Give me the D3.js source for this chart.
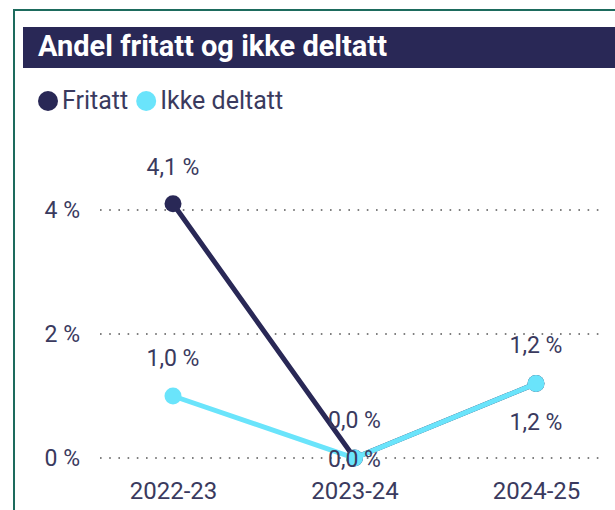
<!DOCTYPE html>
<html>
<head>
<meta charset="utf-8">
<script src="https://cdn.jsdelivr.net/npm/d3@7"></script>
<style>
  html, body { margin: 0; padding: 0; background: #fff; }
  svg { display: block; }
</style>
</head>
<body>
<svg id="chart" width="615" height="510"></svg>
<script>
// Data
const years = ["2022-23", "2023-24", "2024-25"];
const fritatt = [4.1, 0.0, 1.2];
const ikkeDeltatt = [1.0, 0.0, 1.2];
const yTicks = [0, 2, 4];

const svg = d3.select("#chart");
const font = "Roboto, sans-serif";
const textColor = "#3a3a5e";
const fmt = v => d3.format(".1f")(v).replace(".", ",") + " %";

// Card frame
svg.append("rect")
    .attr("x", 14).attr("y", 10)
    .attr("width", 640).attr("height", 540)
    .attr("fill", "none")
    .attr("stroke", "#1d6b5d")
    .attr("stroke-width", 2);

// Title bar
svg.append("rect")
    .attr("x", 23).attr("y", 27)
    .attr("width", 620).attr("height", 41)
    .attr("fill", "#292856");
svg.append("text")
    .attr("x", 38).attr("y", 56)
    .attr("fill", "#fff")
    .attr("font-family", font)
    .attr("font-weight", "bold")
    .attr("font-size", "29px")
    .text("Andel fritatt og ikke deltatt");

// Legend
const series = [
    { name: "Fritatt", values: fritatt, color: "#292856", labelDy: [-29, -30, -31] },
    { name: "Ikke deltatt", values: ikkeDeltatt, color: "#6ae4fb", labelDy: [-30, 9, 46] }
];
const legend = svg.append("g").attr("font-family", font).attr("font-size", "25px");
let lx = 48;
series.forEach(s => {
    legend.append("circle").attr("cx", lx).attr("cy", 101).attr("r", 10).attr("fill", s.color);
    const t = legend.append("text").attr("x", lx + 14).attr("y", 109).attr("fill", textColor).text(s.name);
    lx += 14 + t.node().getComputedTextLength() + 18;
});

// Scales
const x = d3.scalePoint().domain(years).range([173, 536]);
const y = d3.scaleLinear().domain([0, 4]).range([458, 210]);

// Gridlines
svg.append("g")
    .selectAll("line")
    .data(yTicks)
    .join("line")
    .attr("x1", 100).attr("x2", 603)
    .attr("y1", d => y(d)).attr("y2", d => y(d))
    .attr("stroke", "#555")
    .attr("stroke-width", 1.6)
    .attr("stroke-dasharray", "1.6,7.6");

// Y axis
const yAxis = svg.append("g")
    .attr("transform", "translate(80,0)")
    .call(d3.axisLeft(y).tickValues(yTicks).tickSize(0).tickPadding(0).tickFormat(d => d + " %"));
yAxis.select(".domain").remove();
yAxis.selectAll("text")
    .attr("font-family", font)
    .attr("font-size", "23px")
    .attr("fill", textColor);

// X axis
const xAxis = svg.append("g")
    .attr("transform", "translate(0,478)")
    .call(d3.axisBottom(x).tickSize(0).tickPadding(4));
xAxis.select(".domain").remove();
xAxis.selectAll("text")
    .attr("font-family", font)
    .attr("font-size", "24px")
    .attr("fill", textColor);

// Lines and points
const line = d3.line().x((d, i) => x(years[i])).y(d => y(d));
series.forEach(s => {
    const g = svg.append("g");
    g.append("path")
        .datum(s.values)
        .attr("d", line)
        .attr("fill", "none")
        .attr("stroke", s.color)
        .attr("stroke-width", 5);
    g.selectAll("circle")
        .data(s.values)
        .join("circle")
        .attr("cx", (d, i) => x(years[i]))
        .attr("cy", d => y(d))
        .attr("r", 8.5)
        .attr("fill", s.color);
});

// Data labels
series.forEach(s => {
    svg.append("g")
        .selectAll("text")
        .data(s.values)
        .join("text")
        .attr("x", (d, i) => x(years[i]))
        .attr("y", (d, i) => y(d) + s.labelDy[i])
        .attr("text-anchor", "middle")
        .attr("font-family", font)
        .attr("font-size", "23px")
        .attr("fill", textColor)
        .text(d => fmt(d));
});
</script>
</body>
</html>
